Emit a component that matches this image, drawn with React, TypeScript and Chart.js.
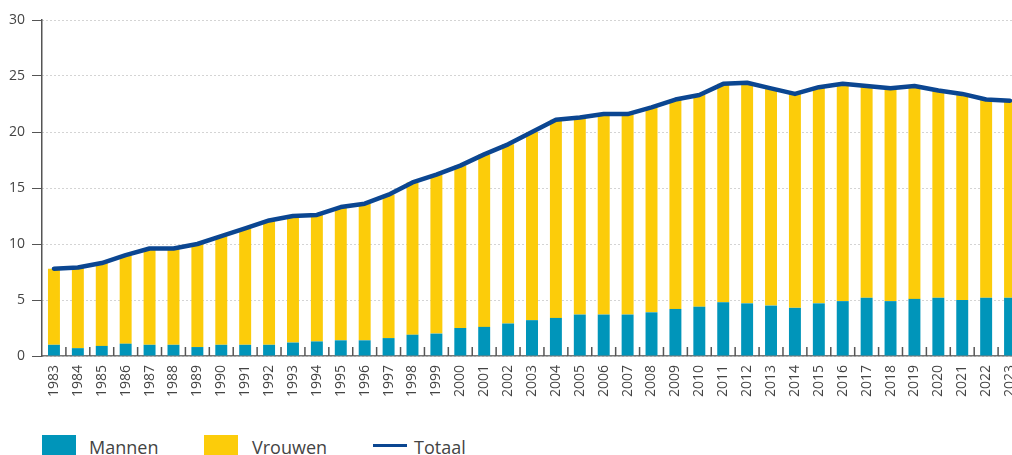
import React, { useEffect, useRef } from "react";
import { Chart, registerables } from "chart.js";

Chart.register(...registerables);

const years = [
  "1983", "1984", "1985", "1986", "1987", "1988", "1989", "1990", "1991", "1992",
  "1993", "1994", "1995", "1996", "1997", "1998", "1999", "2000", "2001", "2002",
  "2003", "2004", "2005", "2006", "2007", "2008", "2009", "2010", "2011", "2012",
  "2013", "2014", "2015", "2016", "2017", "2018", "2019", "2020", "2021", "2022",
  "2023",
];

const mannen = [
  1.0, 0.7, 0.9, 1.1, 1.0, 1.0, 0.8, 1.0, 1.0, 1.0,
  1.2, 1.3, 1.4, 1.4, 1.6, 1.9, 2.0, 2.5, 2.6, 2.9,
  3.2, 3.4, 3.7, 3.7, 3.7, 3.9, 4.2, 4.4, 4.8, 4.7,
  4.5, 4.3, 4.7, 4.9, 5.2, 4.9, 5.1, 5.2, 5.0, 5.2,
  5.2,
];

const vrouwen = [
  6.8, 7.2, 7.4, 7.9, 8.6, 8.6, 9.2, 9.7, 10.4, 11.1,
  11.3, 11.3, 11.9, 12.2, 12.8, 13.6, 14.2, 14.5, 15.4, 16.0,
  16.8, 17.7, 17.6, 17.9, 17.9, 18.3, 18.7, 18.9, 19.5, 19.7,
  19.4, 19.1, 19.3, 19.4, 18.9, 19.0, 19.0, 18.5, 18.4, 17.7,
  17.6,
];

const totaal = [
  7.8, 7.9, 8.3, 9.0, 9.6, 9.6, 10.0, 10.7, 11.4, 12.1,
  12.5, 12.6, 13.3, 13.6, 14.4, 15.5, 16.2, 17.0, 18.0, 18.9,
  20.0, 21.1, 21.3, 21.6, 21.6, 22.2, 22.9, 23.3, 24.3, 24.4,
  23.9, 23.4, 24.0, 24.3, 24.1, 23.9, 24.1, 23.7, 23.4, 22.9,
  22.8,
];

const yTicks = [0, 5, 10, 15, 20, 25, 30];

const seriesNames = ["Mannen", "Vrouwen", "Totaal"];

const TEAL = "#0095BA";
const YELLOW = "#FCCC0A";
const NAVY = "#0B4691";
const TEXT = "#444444";
const FONT = "'Open Sans', 'Noto Sans', sans-serif";

const betweenTicks = {
  id: "betweenTicks",
  afterDatasetsDraw(chart: any) {
    const x = chart.scales.x;
    const area = chart.chartArea;
    const ctx = chart.ctx;
    ctx.save();
    ctx.strokeStyle = "#555555";
    ctx.lineWidth = 1.5;
    const n = years.length;
    for (let i = 1; i < n; i++) {
      const px = (x.getPixelForValue(i - 1) + x.getPixelForValue(i)) / 2;
      ctx.beginPath();
      ctx.moveTo(px, area.bottom - 9);
      ctx.lineTo(px, area.bottom);
      ctx.stroke();
    }
    ctx.restore();
  },
};

export default function App() {
  const canvasRef = useRef<HTMLCanvasElement | null>(null);

  useEffect(() => {
    const canvas = canvasRef.current;
    if (!canvas) return;
    const chart = new Chart(canvas, {
      type: "bar",
      data: {
        labels: years,
        datasets: [
          {
            type: "line",
            label: seriesNames[2],
            data: totaal,
            borderColor: NAVY,
            backgroundColor: NAVY,
            borderWidth: 4.5,
            pointRadius: 0,
            tension: 0,
            borderJoinStyle: "round",
            borderCapStyle: "round",
            stack: "total",
            order: 0,
          } as any,
          {
            type: "bar",
            label: seriesNames[0],
            data: mannen,
            backgroundColor: TEAL,
            stack: "bars",
            order: 1,
            categoryPercentage: 1,
            barPercentage: 0.5,
          },
          {
            type: "bar",
            label: seriesNames[1],
            data: vrouwen,
            backgroundColor: YELLOW,
            stack: "bars",
            order: 1,
            categoryPercentage: 1,
            barPercentage: 0.5,
          },
        ],
      },
      options: {
        responsive: false,
        animation: false,
        maintainAspectRatio: false,
        layout: { padding: { top: 20, left: 0, right: 18, bottom: 0 } },
        plugins: {
          legend: { display: false },
          tooltip: { enabled: false },
        },
        scales: {
          x: {
            stacked: true,
            offset: true,
            grid: { display: false, drawTicks: false },
            border: { display: true, color: "#777777", width: 1.5 },
            ticks: {
              autoSkip: false,
              minRotation: 90,
              maxRotation: 90,
              padding: 9,
              color: TEXT,
              font: { family: FONT, size: 14 },
            },
            afterFit: (s: any) => {
              s.height = 64;
            },
          },
          y: {
            stacked: true,
            min: 0,
            max: 30,
            afterBuildTicks: (s: any) => {
              s.ticks = yTicks.map((v) => ({ value: v }));
            },
            grid: {
              color: "#a8a8a8",
              lineWidth: 1,
              drawTicks: true,
              tickLength: 10,
              tickColor: "#555555",
              tickWidth: 1,
              tickBorderDash: [],
            } as any,
            border: { display: true, color: "#555555", width: 1.5, dash: [1, 3] },
            ticks: {
              padding: 7,
              color: TEXT,
              font: { family: FONT, size: 14 },
            },
            afterFit: (s: any) => {
              s.width = 42;
            },
          },
        },
      },
      plugins: [betweenTicks],
    });
    return () => chart.destroy();
  }, []);

  const legendText: React.CSSProperties = {
    position: "absolute",
    top: 435,
    fontFamily: FONT,
    fontSize: 18,
    color: TEXT,
    lineHeight: "24px",
    whiteSpace: "nowrap",
  };

  return (
    <div
      style={{
        position: "fixed",
        left: 0,
        top: 0,
        width: 1012,
        height: 455,
        overflow: "hidden",
        background: "#ffffff",
      }}
    >
      <canvas
        ref={canvasRef}
        width={1040}
        height={420}
        style={{ position: "absolute", left: 0, top: 0, width: 1040, height: 420 }}
      />
      <div style={{ position: "absolute", left: 42, top: 435, width: 34, height: 22, background: TEAL }} />
      <span style={{ ...legendText, left: 89 }}>{seriesNames[0]}</span>
      <div style={{ position: "absolute", left: 204, top: 435, width: 34, height: 22, background: YELLOW }} />
      <span style={{ ...legendText, left: 252 }}>{seriesNames[1]}</span>
      <div style={{ position: "absolute", left: 373, top: 444, width: 34, height: 3, background: NAVY }} />
      <span style={{ ...legendText, left: 414 }}>{seriesNames[2]}</span>
    </div>
  );
}
